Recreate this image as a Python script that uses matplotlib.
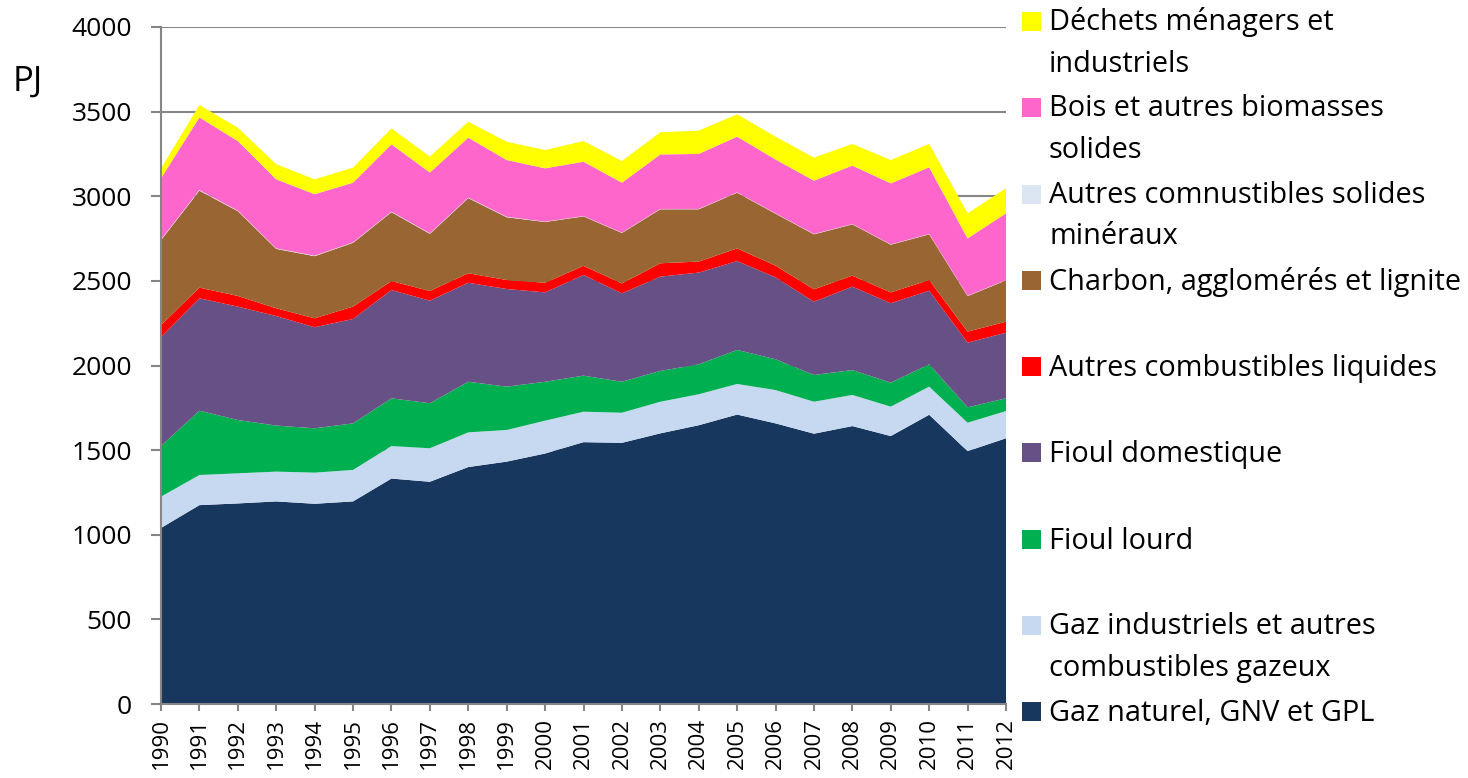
import numpy as np
import matplotlib
matplotlib.use("Agg")
import matplotlib.pyplot as plt
from matplotlib.patches import Rectangle

plt.rcParams['font.family'] = ['Open Sans', 'DejaVu Sans']

years = list(range(1990, 2013))

# valeurs en PJ (couches empilées de bas en haut)
gaz_naturel = [1040, 1175, 1185, 1197, 1183, 1197, 1332, 1313, 1400, 1432, 1480, 1547,
               1543, 1599, 1647, 1710, 1658, 1597, 1642, 1583, 1709, 1494, 1570]
gaz_industriels = [185, 178, 178, 176, 184, 186, 192, 198, 205, 187, 194, 180,
                   178, 187, 183, 181, 197, 189, 184, 174, 166, 168, 161]
fioul_lourd = [299, 380, 315, 272, 262, 275, 282, 266, 299, 256, 230, 213,
               183, 182, 177, 201, 182, 158, 147, 142, 132, 91, 75]
fioul_domestique = [643, 664, 670, 647, 597, 617, 640, 606, 585, 577, 528, 595,
                    522, 557, 542, 525, 484, 433, 493, 469, 435, 382, 388]
autres_liquides = [72, 63, 63, 46, 53, 73, 53, 57, 56, 53, 57, 54,
                   59, 79, 65, 75, 69, 73, 65, 64, 63, 65, 65]
charbon = [502, 573, 501, 351, 367, 377, 407, 338, 444, 371, 359, 292,
           298, 319, 309, 329, 307, 325, 303, 282, 270, 210, 244]
autres_solides = [4, 4, 3, 3, 3, 3, 3, 3, 3, 3, 2, 2,
                  2, 2, 2, 2, 2, 2, 2, 2, 2, 2, 2]
bois = [361, 429, 411, 408, 363, 352, 398, 359, 354, 335, 315, 321,
        295, 322, 325, 329, 318, 315, 345, 360, 394, 339, 394]
dechets = [59, 73, 79, 89, 88, 89, 94, 94, 94, 108, 108, 122,
           128, 131, 138, 132, 135, 136, 128, 138, 138, 148, 148]

series = [gaz_naturel, gaz_industriels, fioul_lourd, fioul_domestique,
          autres_liquides, charbon, autres_solides, bois, dechets]
labels = ["Gaz naturel, GNV et GPL",
          "Gaz industriels et autres\ncombustibles gazeux",
          "Fioul lourd",
          "Fioul domestique",
          "Autres combustibles liquides",
          "Charbon, agglomérés et lignite",
          "Autres comnustibles solides\nminéraux",
          "Bois et autres biomasses\nsolides",
          "Déchets ménagers et\nindustriels"]
colors = ["#17375E", "#C6D9F1", "#00B050", "#675086", "#FF0000",
          "#996633", "#DCE6F2", "#FF66CC", "#FFFF00"]

W, H = 1468, 778
fig = plt.figure(figsize=(W / 100, H / 100), dpi=100)
ax = fig.add_axes([161 / W, 1 - 704 / H, (1006 - 161) / W, (704 - 27) / H])

ax.stackplot(years, *series, colors=colors, linewidth=0, zorder=2)

ax.set_xlim(1990, 2012)
ax.set_ylim(0, 4000)
ax.set_yticks(np.arange(0, 4001, 500))
ax.set_xticks(years)
ax.set_xticklabels([str(y) for y in years], rotation=90, fontsize=16)
ax.tick_params(axis='y', labelsize=19, length=7, color="#868686", width=1.5, pad=14)
ax.tick_params(axis='x', length=5, color="#868686", width=1.5, pad=5)
ax.grid(axis='y', color="#868686", linewidth=1.5, zorder=0)
ax.set_axisbelow(True)
for s in ['top', 'right']:
    ax.spines[s].set_visible(False)
for s in ['left', 'bottom']:
    ax.spines[s].set_color("#868686")
    ax.spines[s].set_linewidth(1.5)

fig.text(13 / W, 1 - 82 / H, "PJ", fontsize=25, va='center', ha='left')

# légende à droite, ordre inversé comme dans Excel
step = 86.3
gap = 40.7   # écart entre lignes d'une même étiquette, en px
for i, (lab, col) in enumerate(zip(labels[::-1], colors[::-1])):
    yb = 31 + i * step   # bas du carré = ligne de base de la 1re ligne
    nl = lab.count("\n")
    fig.patches.append(Rectangle((1022 / W, 1 - yb / H), 19 / W, 19 / H,
                                 transform=fig.transFigure, facecolor=col,
                                 edgecolor='none'))
    fig.text(1049 / W, 1 - (yb + nl * gap) / H, lab, fontsize=20.8,
             va='baseline', ha='left', linespacing=1.58)

fig.savefig("out.png", dpi=100)
